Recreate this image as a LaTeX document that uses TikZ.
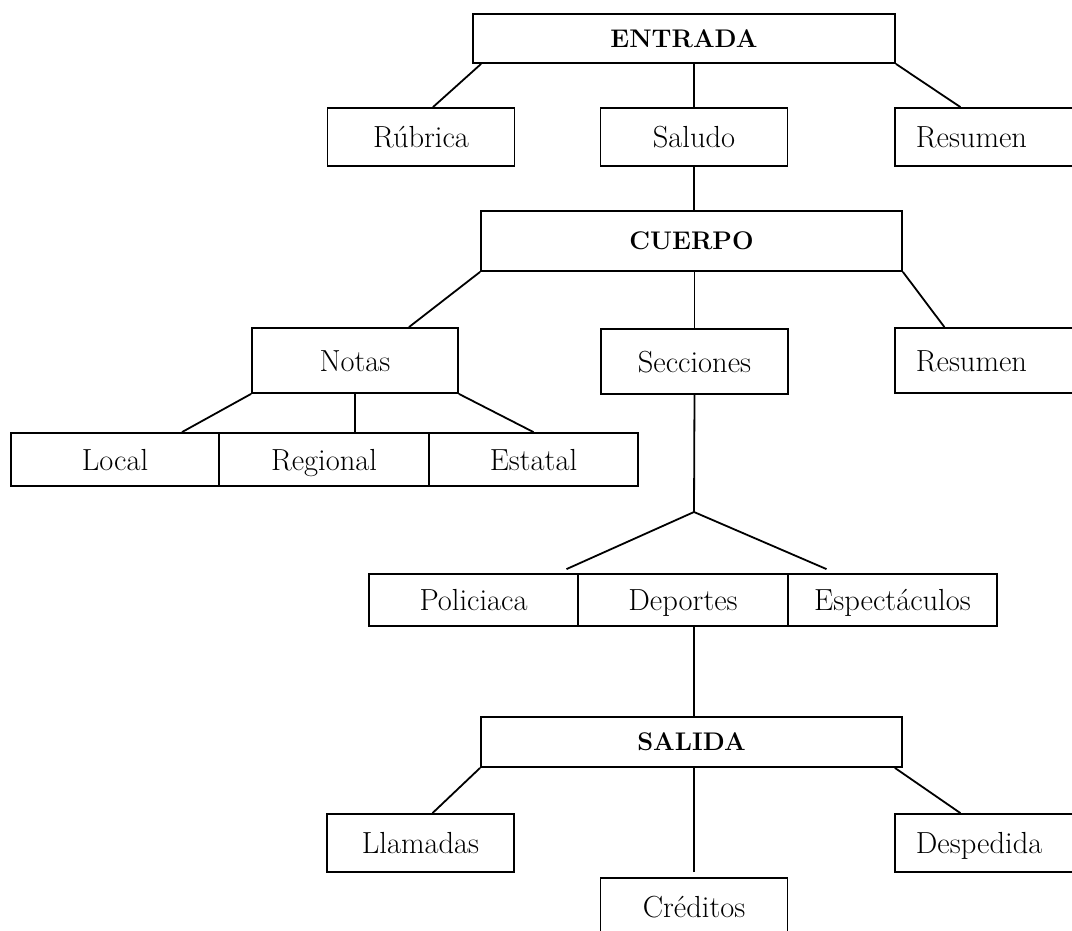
\documentclass[tikz,border=0pt]{standalone}
\usepackage{fontspec}
\usepackage{tikz}

\begin{document}
\begin{tikzpicture}[x=1pt, y=-1pt, line width=1.8pt,
	caja/.style={draw, rectangle, inner sep=0pt, text height=21pt, text depth=0pt, font=\fontsize{30.5}{36}\selectfont},
	grande/.style={caja, minimum width=421pt, text height=17.5pt, font=\bfseries\fontsize{25.5}{30}\selectfont},
	hoja/.style={caja, minimum width=187pt, minimum height=58pt},
	celda/.style={caja, minimum width=209pt, minimum height=53pt},
	cortada/.style={caja, anchor=west, text width=145pt, inner xsep=21pt, align=left, minimum height=58pt}]

	\useasboundingbox (0,0) rectangle (1072,931);
	\clip (0,0) rectangle (1072,931);

	% entrada
	\node[grande, minimum width=422pt, minimum height=49pt](entrada) at (684,38.5) {ENTRADA};
	\node[hoja](rubrica) at (421,137) {Rúbrica};
	\node[hoja](saludo) at (694,137) {Saludo};
	\node[cortada](resumenA) at (894,137) {Resumen};

	% cuerpo
	\node[grande, minimum height=60pt](cuerpo) at (691.5,241) {CUERPO};
	\node[hoja, minimum width=206pt, minimum height=65pt](notas) at (355,360.5) {Notas};
	\node[hoja, minimum height=65pt](secciones) at (694.5,361.5) {Secciones};
	\node[cortada, minimum height=65pt](resumenB) at (894,360.5) {Resumen};

	\node[celda, minimum width=208pt](local) at (115,459.5) {Local};
	\node[celda, minimum width=210pt](regional) at (324,459.5) {Regional};
	\node[celda](estatal) at (533.5,459.5) {Estatal};

	\coordinate (rama) at (694,512);

	\node[celda, minimum height=52pt](policiaca) at (473.5,600) {Policiaca};
	\node[celda, minimum width=210pt, minimum height=52pt](deportes) at (683,600) {Deportes};
	\node[celda, minimum height=52pt](espectaculos) at (892.5,600) {Espectáculos};

	% salida
	\node[grande, minimum height=50pt](salida) at (691.5,742) {SALIDA};
	\node[hoja](llamadas) at (420.5,843) {Llamadas};
	\node[hoja](creditos) at (694,907) {Créditos};
	\node[cortada](despedida) at (894,843) {Despedida};

	% lineas
	\draw ([xshift=9pt]entrada.south west) -- ([xshift=12pt]rubrica.north);
	\draw (saludo.north) -- (saludo.north |- entrada.south);
	\draw (entrada.south east) -- ([xshift=-28pt]resumenA.north);
	\draw (saludo.south) -- (saludo.south |- cuerpo.north);

	\draw (cuerpo.south west) -- ([xshift=54pt]notas.north);
	\draw (secciones.north) -- (secciones.north |- cuerpo.south);
	\draw (cuerpo.south east) -- ([xshift=-44pt]resumenB.north);

	\draw (notas.south west) -- ([xshift=67pt]local.north);
	\draw (notas.south) -- (notas.south |- regional.north);
	\draw (notas.south east) -- (estatal.north);

	\draw (secciones.south) -- (rama);
	\draw (rama) -- ([xshift=93pt, yshift=4pt]policiaca.north);
	\draw (rama) -- ([xshift=-66pt, yshift=4pt]espectaculos.north);
	\draw (rama |- deportes.south) -- (rama |- salida.north);

	\draw (salida.south west) -- ([xshift=12pt]llamadas.north);
	\draw ([yshift=5pt]creditos.north) -- (creditos.north |- salida.south);
	\draw ([xshift=-8pt]salida.south east) -- ([xshift=-28pt]despedida.north);

\end{tikzpicture}
\end{document}
